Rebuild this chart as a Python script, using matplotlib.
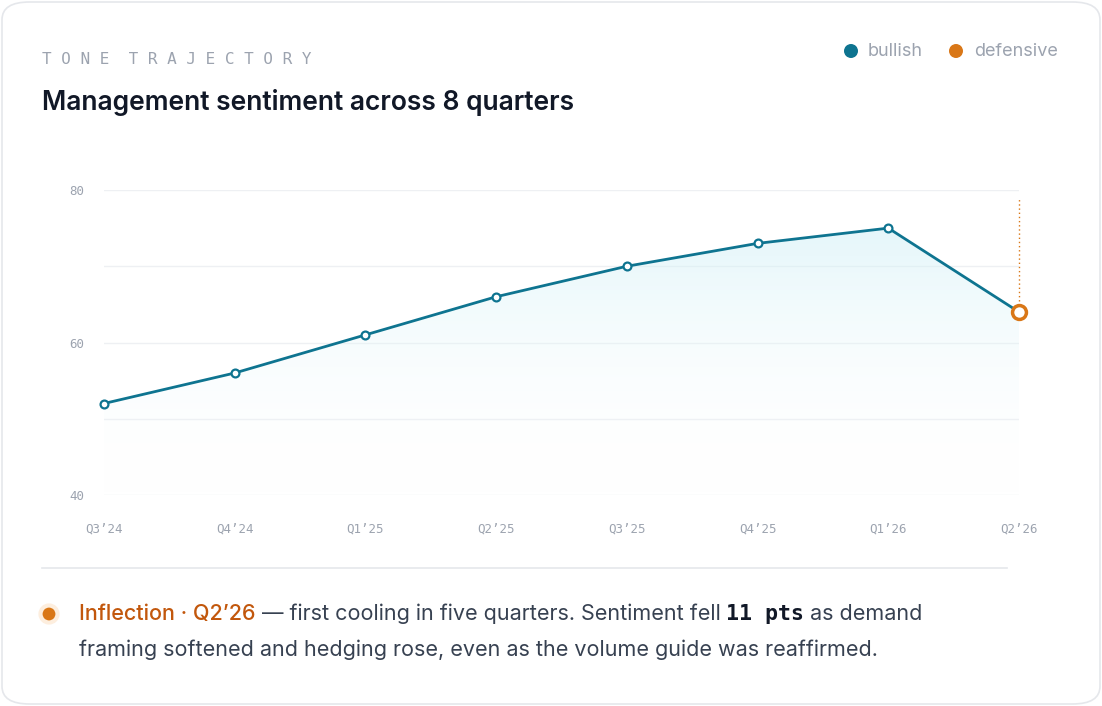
import matplotlib
matplotlib.use("Agg")
import matplotlib.pyplot as plt
import numpy as np
from matplotlib.patches import FancyBboxPatch, Polygon
from matplotlib.colors import LinearSegmentedColormap

quarters = ["Q3\u201924", "Q4\u201924", "Q1\u201925", "Q2\u201925", "Q3\u201925", "Q4\u201925", "Q1\u201926", "Q2\u201926"]
sentiment = [52, 56, 61, 66, 70, 73, 75, 64]
yticks = [40, 60, 80]
grid_vals = [40, 50, 60, 70, 80]

W, H = 1102, 706
fig = plt.figure(figsize=(W/100, H/100), dpi=100)
fig.patch.set_facecolor("white")
card = FancyBboxPatch((2/W, 2/H), 1-4/W, 1-4/H, boxstyle="round,pad=0,rounding_size=0.025",
                      transform=fig.transFigure, fc="white", ec="#e5e7eb", lw=1.2, zorder=-10)
fig.patches.append(card)

ax = fig.add_axes([104/W, 1-495/H, (1019-104)/W, (495-190)/H])
ax.set_zorder(2)
ax.patch.set_alpha(0)
ax.set_xlim(0, 7); ax.set_ylim(40, 80)
for s in ax.spines.values(): s.set_visible(False)
for g in grid_vals:
    ax.axhline(g, color="#eef0f3", lw=1, zorder=0)
x = np.arange(len(sentiment))
teal = "#0e7490"; orange = "#d97717"
grad = np.linspace(0, 1, 256).reshape(-1, 1)
cmap = LinearSegmentedColormap.from_list("g", [(1, 1, 1, 0), (0.78, 0.93, 0.96, 0.6)])
im = ax.imshow(grad, cmap=cmap, extent=[0, 7, 40, 80], origin="lower", aspect="auto", zorder=1)
poly = Polygon(list(zip(x, sentiment)) + [(7, 40), (0, 40)], closed=True, transform=ax.transData)
im.set_clip_path(poly)
ax.plot(x, sentiment, color=teal, lw=2, zorder=3, clip_on=False)
ax.scatter(x[:-1], sentiment[:-1], s=32, facecolor="white", edgecolor=teal, lw=1.6, zorder=4, clip_on=False)
ax.scatter([x[-1]], [sentiment[-1]], s=100, facecolor="white", edgecolor=orange, lw=2.5, zorder=5, clip_on=False)
ax.plot([7, 7], [sentiment[-1] + 1.5, 79], color=orange, lw=1, ls=(0, (1, 2)), clip_on=False, zorder=2)
ax.set_xticks(x); ax.set_xticklabels(quarters)
ax.set_yticks(yticks)
ax.tick_params(length=0, labelsize=9, labelcolor="#9ca3af")
ax.tick_params(axis="x", pad=20)
ax.tick_params(axis="y", pad=14)
for lab in ax.get_xticklabels() + ax.get_yticklabels():
    lab.set_family("DejaVu Sans Mono")

fig.text(42/W, 1-60/H, "T O N E  T R A J E C T O R Y", family="DejaVu Sans Mono", fontsize=11.5,
         color="#9ca3af", va="center")
fig.text(42/W, 1-103/H, "Management sentiment across 8 quarters", family="Inter", fontsize=19,
         color="#111827", va="center", weight="semibold")
fig.patches.append(matplotlib.patches.Circle((851, H-51), 7, transform=None, fc=teal, ec="none"))
fig.text(868/W, 1-51/H, "bullish", fontsize=13, color="#9ca3af", va="center", family="Inter")
fig.patches.append(matplotlib.patches.Circle((956, H-51), 7, transform=None, fc=orange, ec="none"))
fig.text(974/W, 1-51/H, "defensive", fontsize=13, color="#9ca3af", va="center", family="Inter")

fig.add_artist(plt.Line2D([42/W, 1007/W], [1-568/H, 1-568/H], color="#e5e7eb", lw=1.2))
fig.patches.append(matplotlib.patches.Circle((49, H-614), 8.5, transform=None, fc=orange, ec="#fdeede", lw=3))

renderer = fig.canvas.get_renderer()
parts = [("Inflection \u00b7 Q2\u201926", "#c2570c", "Inter", "medium"),
         (" \u2014 first cooling in five quarters. Sentiment fell ", "#374151", "Inter", "normal"),
         ("11 pts", "#111827", "DejaVu Sans Mono", "bold"),
         (" as demand", "#374151", "Inter", "normal")]
xp = 79
for txt, col, fam, wt in parts:
    t = fig.text(xp/W, 1-614/H, txt, color=col, family=fam, weight=wt, fontsize=15.5, va="center")
    bb = t.get_window_extent(renderer)
    xp += bb.width
fig.text(79/W, 1-650/H, "framing softened and hedging rose, even as the volume guide was reaffirmed.",
         color="#374151", family="Inter", fontsize=15.5, va="center")

fig.savefig("out.png", dpi=100)
